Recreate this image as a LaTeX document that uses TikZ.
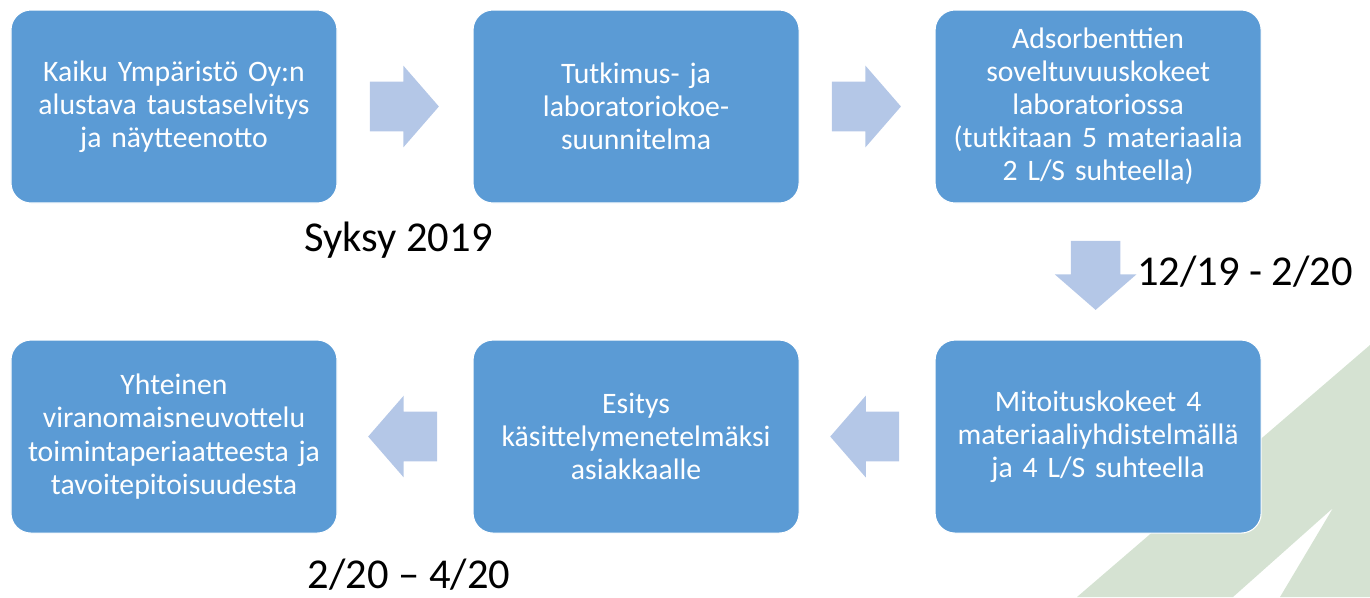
\documentclass[tikz,border=0pt]{standalone}
\usepackage{fontspec}
\setmainfont{Carlito}
\usepackage{xcolor}
\usepackage{tikz}
\usetikzlibrary{calc, shapes, shapes.arrows, positioning, backgrounds}
\definecolor{boxblue}{RGB}{91,155,213}
\definecolor{arrowblue}{RGB}{180,199,231}
\definecolor{bggreen}{RGB}{213,226,210}
\tikzset{
    boxnode/.style = {draw=white, line width=0.6pt, fill=boxblue, rectangle, rounded corners=0.4cm,
      minimum width=6.52cm, minimum height=3.86cm, text width=6.2cm, align=center, text=white,
      inner sep=0em, font=\fontsize{16.9}{18.8}\selectfont},
    arrownode/.style = {single arrow, draw=none, fill=arrowblue, minimum height=1.38cm,
      inner xsep=0em, inner ysep=0.49cm, single arrow head extend=0.32cm,
      single arrow tip angle=98, anchor=tail},
    textnode/.style = {draw=none, fill=none, rectangle, inner sep=0em, text=black,
      font=\fontsize{24.2}{26}\selectfont},
    every text node part/.style={align=center}
}

\begin{document}
\begin{tikzpicture}
\useasboundingbox (0,0) rectangle (27.4,-11.94);
% taustakuvio
\fill[bggreen] (21.54,-11.94) -- (27.4,-6.9) -- (27.4,-11.94) -- (25.6,-11.94)
  -- (26.66,-10.16) -- (24.66,-11.94) -- cycle;

\node[boxnode, name=K1] at (3.48,-2.13) {Kaiku Ympäristö Oy:n\\alustava taustaselvitys\\ja näytteenotto};
\node[boxnode, name=K2, right=2.7cm of K1] {Tutkimus- ja\\laboratoriokoe-\\suunnitelma};
\node[boxnode, name=K3, right=2.7cm of K2] {Adsorbenttien\\soveltuvuuskokeet\\laboratoriossa\\(tutkitaan 5 materiaalia\\2 L/S suhteella)};
\node[boxnode, name=K4, below=2.72cm of K3] {Mitoituskokeet 4\\materiaaliyhdistelmällä\\ja 4 L/S suhteella};
\node[boxnode, name=K5, left=2.7cm of K4] {Esitys\\käsittelymenetelmäksi\\asiakkaalle};
\node[boxnode, name=K6, left=2.7cm of K5] {Yhteinen\\viranomaisneuvottelu\\toimintaperiaatteesta ja\\tavoitepitoisuudesta};

\node[arrownode, name=A12] at ($(K1.east)+(0.64cm,0)$) {};
\node[arrownode, name=A23] at ($(K2.east)+(0.64cm,0)$) {};
\node[arrownode, name=A34, rotate=-90] at ($(K3.south)+(-0.05cm,-0.74cm)$) {};
\node[arrownode, name=A45, rotate=180] at ($(K4.west)+(-0.7cm,0)$) {};
\node[arrownode, name=A56, rotate=180] at ($(K5.west)+(-0.7cm,0)$) {};

\node[textnode, name=T1] at (7.97,-4.8) {Syksy 2019};
\node[textnode, name=T2] at (24.9,-5.44) {12/19 - 2/20};
\node[textnode, name=T3] at (8.18,-11.5) {2/20 – 4/20};
\end{tikzpicture}
\end{document}
